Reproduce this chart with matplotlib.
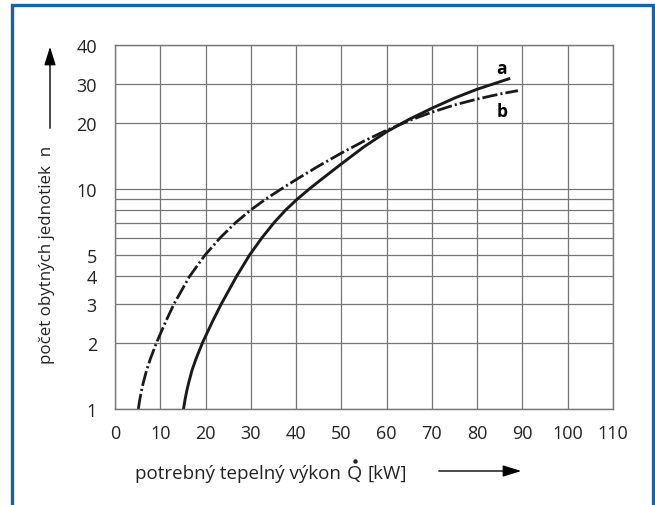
import numpy as np
import matplotlib.pyplot as plt
from matplotlib.lines import Line2D

plt.rcParams['font.family'] = ['Open Sans', 'DejaVu Sans']
plt.rcParams['lines.scale_dashes'] = False

# curve a (solid): heat output [kW] vs. number of dwelling units
a_x = [15.13, 15.46, 15.82, 16.21, 17.01, 17.94, 19.33, 21.54, 23.48, 26.84,
       29.71, 32.47, 35.08, 37.66, 40.31, 42.96, 45.0, 50.0, 55.0, 60.0,
       65.0, 70.0, 75.0, 80.0, 87.0]
a_n = [1.0, 1.1, 1.2, 1.3, 1.5, 1.7, 2.0, 2.5, 3.0, 4.0,
       5.0, 6.0, 7.0, 8.0, 9.0, 10.0, 10.8, 12.98, 15.52, 18.16,
       20.7, 23.22, 25.84, 28.34, 31.6]

# curve b (dash-dot)
b_x = [5.15, 5.46, 5.81, 6.18, 6.98, 7.86, 9.17, 11.22, 13.03, 16.46,
       19.88, 23.26, 26.57, 29.93, 33.35, 36.78, 40.0, 45.0, 50.0, 55.0,
       60.0, 65.0, 70.0, 75.0, 80.0, 85.0, 89.0]
b_n = [1.0, 1.1, 1.2, 1.3, 1.5, 1.7, 2.0, 2.5, 3.0, 4.0,
       5.0, 6.0, 7.0, 8.0, 9.0, 10.0, 11.01, 12.7, 14.53, 16.48,
       18.45, 20.42, 22.29, 24.04, 25.57, 26.95, 27.92]

x_ticks = [0, 10, 20, 30, 40, 50, 60, 70, 80, 90, 100, 110]
y_grid = [1, 2, 3, 4, 5, 6, 7, 8, 9, 10, 20, 30, 45]     # top frame of the original sits at ~45
y_labels = ['1', '2', '3', '4', '5', '', '', '', '', '10', '20', '30', '40']

grid_col = '#767676'
blue = '#1463b0'
ink = '#1a1a1a'
txt = '#222222'

W, H = 655, 506
def fx(px):
    return px / W
def fy(py):
    return 1 - py / H

fig = plt.figure(figsize=(6.55, 5.06), dpi=100)
ax = fig.add_axes([fx(115), fy(410), 498/W, 364/H])

ax.plot(a_x, a_n, '-', color=ink, lw=2.1, solid_joinstyle='round')
ax.plot(b_x, b_n, color=ink, lw=2.0, linestyle=(0, (11, 2.2, 1.5, 2.2)))

ax.text(85.3, 35.5, 'a', ha='center', va='center', fontsize=12.5, fontweight='bold')
ax.text(85.5, 22.5, 'b', ha='center', va='center', fontsize=12.5, fontweight='bold')

ax.set_yscale('log')
ax.set_xlim(0, 110)
ax.set_ylim(1, 45)
ax.set_xticks(x_ticks)
ax.set_yticks(y_grid)
ax.set_yticklabels(y_labels)
ax.yaxis.set_minor_locator(plt.NullLocator())
ax.grid(True, color=grid_col, lw=0.9)
ax.tick_params(length=0, labelsize=13, colors=txt)
ax.tick_params(axis='y', pad=13)
ax.tick_params(axis='x', pad=11)
for s in ax.spines.values():
    s.set_color(grid_col)
    s.set_linewidth(1.0)

# y axis label + arrow
fig.text(fx(47), fy(255), 'počet obytných jednotiek  n', rotation=90,
         ha='center', va='center', fontsize=12.2, color=txt)
ax.annotate('', xy=(fx(50), fy(45)), xytext=(fx(50), fy(132)),
            xycoords='figure fraction', textcoords='figure fraction',
            arrowprops=dict(arrowstyle='-|>,head_length=0.8,head_width=0.25',
                            color='black', lw=1, mutation_scale=14))

# x axis label: text, Q with dot, unit, arrow
fig.text(fx(135), fy(479), 'potrebný tepelný výkon', ha='left', va='baseline',
         fontsize=13.5, color=txt)
fig.text(fx(354.5), fy(479), 'Q', ha='center', va='baseline', fontsize=14, color=txt)
fig.add_artist(Line2D([fx(354.5)], [fy(461.5)], transform=fig.transFigure,
                      marker='o', markersize=2.2, color=txt, lw=0))
fig.text(fx(367.5), fy(479), '[kW]', ha='left', va='baseline', fontsize=13.5, color=txt)
ax.annotate('', xy=(fx(524), fy(472)), xytext=(fx(436), fy(472)),
            xycoords='figure fraction', textcoords='figure fraction',
            arrowprops=dict(arrowstyle='-|>,head_length=0.8,head_width=0.25',
                            color='black', lw=1, mutation_scale=14))

# blue frame (open at bottom)
fig.add_artist(Line2D([fx(12), fx(12), fx(653), fx(653)], [0, fy(6), fy(6), 0],
                      transform=fig.transFigure, color=blue, lw=2.4,
                      solid_joinstyle='miter'))

fig.savefig('out.png', dpi=100)
